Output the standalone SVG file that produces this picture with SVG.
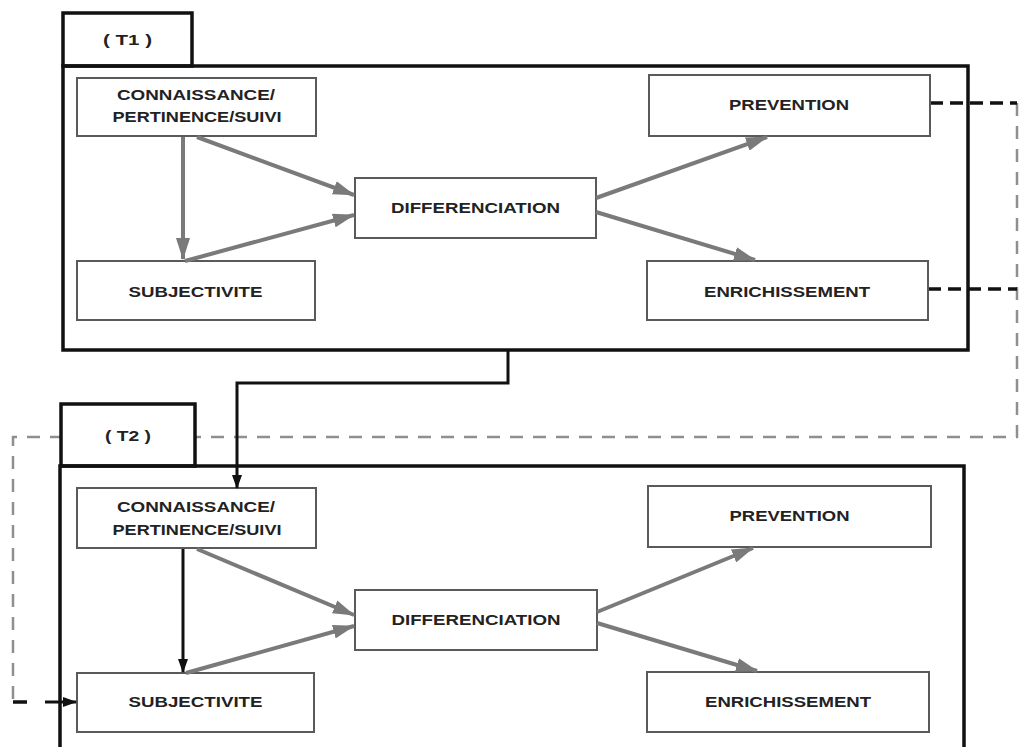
<svg xmlns="http://www.w3.org/2000/svg" width="1019" height="747" viewBox="0 0 1019 747">
<style>
.frame{fill:none;stroke:#111;stroke-width:3.5}
.tab{fill:#fff;stroke:#111;stroke-width:3.5}
.box{fill:#fff;stroke:#5a5a5a;stroke-width:2}
.lbl{font-family:"Liberation Sans",Arial,sans-serif;font-weight:bold;font-size:15.5px;fill:#222;text-anchor:middle}
.tabl{font-family:"Liberation Sans",Arial,sans-serif;font-weight:bold;font-size:14px;fill:#222;text-anchor:middle}
.ga{fill:none;stroke:#7a7a7a;stroke-width:4;marker-end:url(#ah)}
.ba{fill:none;stroke:#111;stroke-width:3;marker-end:url(#bh)}
.gd{fill:none;stroke:#8f8f8f;stroke-width:2.5;stroke-dasharray:13 10}
.bd{fill:none;stroke:#111;stroke-width:3.5;stroke-dasharray:13 7}
</style>
<defs>
<marker id="ah" markerUnits="userSpaceOnUse" markerWidth="22" markerHeight="14" refX="21" refY="7" orient="auto">
<path d="M0,0 L22,7 L0,14 z" fill="#7a7a7a"/>
</marker>
<marker id="bh" markerUnits="userSpaceOnUse" markerWidth="14" markerHeight="10" refX="13" refY="5" orient="auto">
<path d="M0,0 L14,5 L0,10 z" fill="#111"/>
</marker>
</defs>
<rect width="1019" height="747" fill="#fff"/>

<g id="connectors-back">
<path class="gd" d="M1017,103 V437 H13 V702"/>
<path class="bd" d="M930,103 H1017"/>
<path class="bd" d="M928,289 H1017"/>
</g>

<g id="frame-T1">
<rect class="tab" x="63" y="13" width="129" height="53"/>
<text class="tabl" x="127.5" y="45" textLength="49" lengthAdjust="spacingAndGlyphs">( T1 )</text>
<rect class="frame" x="63" y="66" width="905" height="284"/>
</g>

<g id="frame-T2">
<rect class="tab" x="61" y="404" width="134" height="62"/>
<text class="tabl" x="128" y="441" textLength="46" lengthAdjust="spacingAndGlyphs">( T2 )</text>
<rect class="frame" x="60" y="466" width="904" height="300"/>
</g>

<g id="t1-connaissance">
<rect class="box" x="77" y="78" width="239" height="58"/>
<text class="lbl" x="196" y="100" textLength="158" lengthAdjust="spacingAndGlyphs">CONNAISSANCE/</text>
<text class="lbl" x="197" y="122" textLength="169" lengthAdjust="spacingAndGlyphs">PERTINENCE/SUIVI</text>
</g>
<g id="t1-subjectivite">
<rect class="box" x="77" y="261" width="238" height="59"/>
<text class="lbl" x="195.5" y="297" textLength="134" lengthAdjust="spacingAndGlyphs">SUBJECTIVITE</text>
</g>
<g id="t1-differenciation">
<rect class="box" x="355" y="178" width="241" height="60"/>
<text class="lbl" x="475.5" y="213" textLength="169" lengthAdjust="spacingAndGlyphs">DIFFERENCIATION</text>
</g>
<g id="t1-prevention">
<rect class="box" x="649" y="75" width="281" height="61"/>
<text class="lbl" x="789" y="110" textLength="120" lengthAdjust="spacingAndGlyphs">PREVENTION</text>
</g>
<g id="t1-enrichissement">
<rect class="box" x="647" y="261" width="281" height="59"/>
<text class="lbl" x="787" y="297" textLength="166" lengthAdjust="spacingAndGlyphs">ENRICHISSEMENT</text>
</g>

<g id="t2-connaissance">
<rect class="box" x="77" y="488" width="239" height="60"/>
<text class="lbl" x="196" y="512" textLength="158" lengthAdjust="spacingAndGlyphs">CONNAISSANCE/</text>
<text class="lbl" x="197" y="535" textLength="169" lengthAdjust="spacingAndGlyphs">PERTINENCE/SUIVI</text>
</g>
<g id="t2-subjectivite">
<rect class="box" x="77" y="673" width="237" height="59"/>
<text class="lbl" x="195.5" y="707" textLength="134" lengthAdjust="spacingAndGlyphs">SUBJECTIVITE</text>
</g>
<g id="t2-differenciation">
<rect class="box" x="355" y="590" width="242" height="60"/>
<text class="lbl" x="476" y="625" textLength="169" lengthAdjust="spacingAndGlyphs">DIFFERENCIATION</text>
</g>
<g id="t2-prevention">
<rect class="box" x="648" y="486" width="283" height="61"/>
<text class="lbl" x="789.5" y="521" textLength="120" lengthAdjust="spacingAndGlyphs">PREVENTION</text>
</g>
<g id="t2-enrichissement">
<rect class="box" x="647" y="672" width="282" height="60"/>
<text class="lbl" x="788" y="707" textLength="166" lengthAdjust="spacingAndGlyphs">ENRICHISSEMENT</text>
</g>

<g id="connectors">
<path class="ga" d="M183,137 V259"/>
<path class="ga" d="M197,137 L354,195"/>
<path class="ga" d="M185,261 L354,215"/>
<path class="ga" d="M596,198 L767,137"/>
<path class="ga" d="M596,212 L755,260"/>

<path class="ba" d="M183,549 V672"/>
<path class="ga" d="M197,549 L354,615"/>
<path class="ga" d="M186,673 L354,626"/>
<path class="ga" d="M597,612 L753,548"/>
<path class="ga" d="M597,623 L757,671"/>

<path class="ba" d="M508,350 V383 H237 V488"/>
<path fill="none" stroke="#111" stroke-width="3.5" d="M13,702 H27"/>
<path class="ba" d="M45,702 H76"/>
</g>
</svg>
